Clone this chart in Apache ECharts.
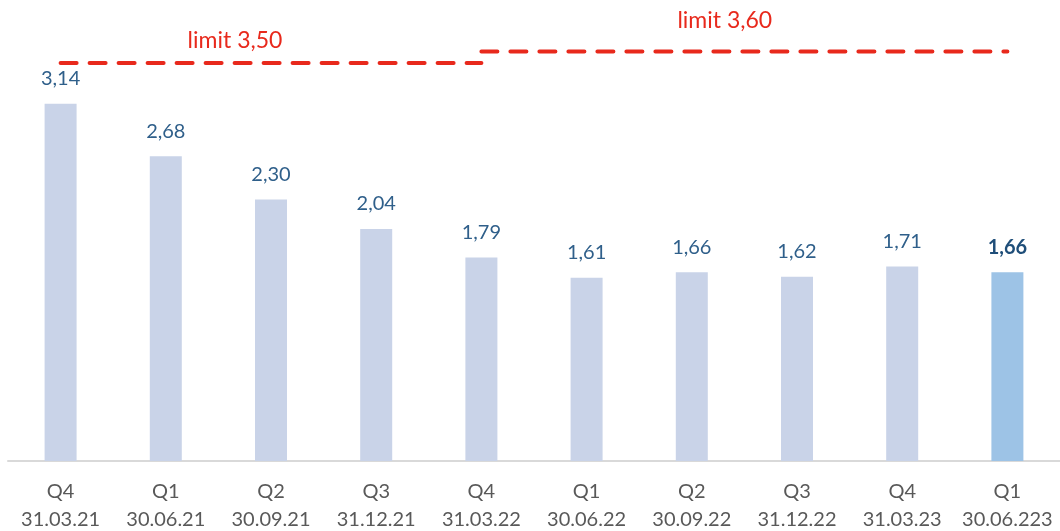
<!DOCTYPE html>
<html><head><meta charset="utf-8">
<script src="https://cdn.jsdelivr.net/npm/echarts@6/dist/echarts.min.js"></script>
<style>html,body{margin:0;padding:0;background:#fff}#c{width:1060px;height:531px}</style>
</head><body><div id="c"></div>
<script>
var quarters = ['Q4','Q1','Q2','Q3','Q4','Q1','Q2','Q3','Q4','Q1'];
var dates = ['31.03.21','30.06.21','30.09.21','31.12.21','31.03.22','30.06.22','30.09.22','31.12.22','31.03.23','30.06.223'];
var values = [3.14, 2.68, 2.30, 2.04, 1.79, 1.61, 1.66, 1.62, 1.71, 1.66];
var limitA = [3.50, 3.50, 3.50, 3.50, 3.50, null, null, null, null, null];
var limitB = [null, null, null, null, 3.60, 3.60, 3.60, 3.60, 3.60, 3.60];
var limitALabel = 'limit 3,50';
var limitBLabel = 'limit 3,60';

var FONT = 'Lato';
var cats = quarters.map(function(q,i){return q+'\n'+dates[i];});
var fmt = function(v){return v.toFixed(2).replace('.',',');};
var last = values.length-1;
var barData = values.map(function(v,i){
  if(i===last) return {value:v,itemStyle:{color:'#9DC3E6'},label:{fontWeight:'bold',color:'#1F4E79'}};
  return v;
});
var lineStyle = {color:'#E8291C',width:4,type:[16,13],cap:'round'};
var limLabel = {color:'#E8291C',fontFamily:FONT,fontSize:23};
var chart = echarts.init(document.getElementById('c'));
chart.setOption({
  animation:false,
  grid:{left:8,right:0,top:6,bottom:70,containLabel:false,outerBoundsMode:'none'},
  xAxis:{type:'category',data:cats,axisTick:{show:false},
    axisLine:{lineStyle:{color:'#D9D9D9',width:2}},
    axisLabel:{color:'#595959',fontFamily:FONT,fontSize:20,lineHeight:28,margin:17,interval:0}},
  yAxis:{type:'value',min:0,max:4,show:false,splitLine:{show:false}},
  series:[
    {type:'bar',data:barData,barWidth:32,itemStyle:{color:'#C9D3E8'},
     label:{show:true,position:'top',distance:15,color:'#2F5F8A',fontFamily:FONT,fontSize:20,
       formatter:function(p){return fmt(p.value);}}},
    {type:'line',data:limitA,symbol:'none',lineStyle:lineStyle,z:5,
     markPoint:{symbol:'rect',symbolSize:0,silent:true,
       data:[{coord:[2,limitA[0]],label:{show:true,position:'inside',offset:[-36,-22],formatter:limitALabel}}],
       label:limLabel}},
    {type:'line',data:limitB,symbol:'none',lineStyle:lineStyle,z:5,
     markPoint:{symbol:'rect',symbolSize:0,silent:true,
       data:[{coord:[6,limitB[9]],label:{show:true,position:'inside',offset:[33,-31],formatter:limitBLabel}}],
       label:limLabel}}
  ]
});
</script></body></html>
